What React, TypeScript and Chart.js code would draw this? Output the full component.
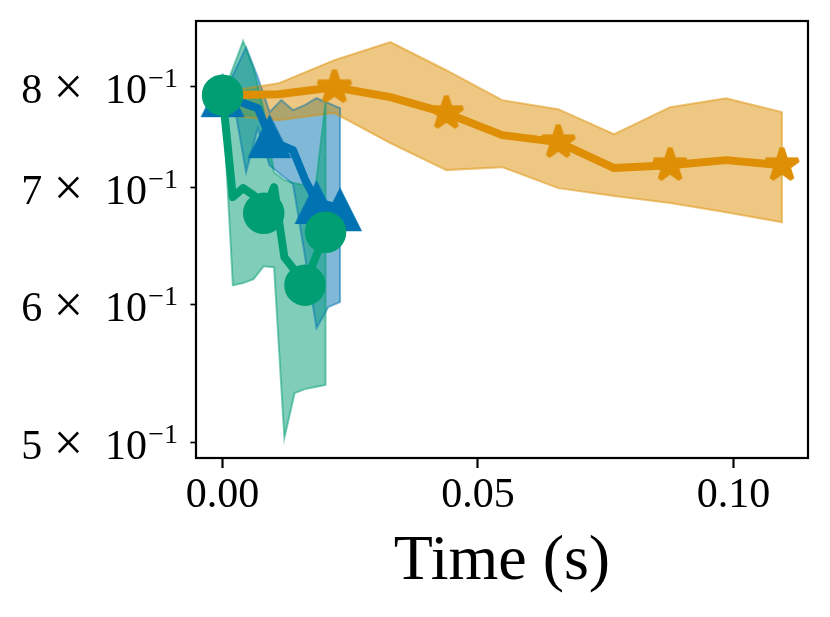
import { useEffect, useRef } from "react";
import { Chart, registerables } from "chart.js";

Chart.register(...registerables);

// method A (orange, stars)
const orangeTime = [0, 0.01095, 0.0219, 0.03285, 0.0438, 0.05475, 0.0657, 0.07665, 0.0876, 0.09855, 0.1095];
const orangeMean = [0.7906, 0.7916, 0.7989, 0.7885, 0.7721, 0.75, 0.7431, 0.7181, 0.7209, 0.7257, 0.7209];
const orangeUpper = [0.7937, 0.803, 0.828, 0.848, 0.817, 0.7854, 0.7761, 0.751, 0.7782, 0.7874, 0.7731];
const orangeLower = [0.77, 0.765, 0.7721, 0.7421, 0.7162, 0.719, 0.6994, 0.6921, 0.6858, 0.6775, 0.6686];
const orangeMarks = [0, 2, 4, 6, 8, 10];

// method B (blue, triangles)
const blueTime = [0, 0.0023, 0.0046, 0.0069, 0.0092, 0.0115, 0.0138, 0.0161, 0.0184, 0.0207, 0.023];
const blueMean = [0.7906, 0.7864, 0.7813, 0.7771, 0.749, 0.7402, 0.7353, 0.7078, 0.6867, 0.684, 0.6802];
const blueUpper = [0.7906, 0.8149, 0.842, 0.8095, 0.7731, 0.7854, 0.7751, 0.7802, 0.7874, 0.7823, 0.7771];
const blueLower = [0.7906, 0.7802, 0.7143, 0.7569, 0.7209, 0.7115, 0.7031, 0.6402, 0.5816, 0.5979, 0.6019];
const blueMarks = [0, 4, 8, 10];

// method C (green, circles)
const greenTime = [0, 0.00202, 0.00403, 0.00605, 0.00806, 0.01008, 0.0121, 0.01411, 0.01613, 0.01814, 0.02016];
const greenMean = [0.7906, 0.6912, 0.6994, 0.693, 0.6766, 0.7003, 0.6385, 0.6277, 0.6154, 0.6377, 0.6599];
const greenUpper = [0.7906, 0.819, 0.849, 0.819, 0.7751, 0.7143, 0.7068, 0.704, 0.7022, 0.6976, 0.7833];
const greenLower = [0.7906, 0.6154, 0.6171, 0.6203, 0.631, 0.6302, 0.5031, 0.5338, 0.5366, 0.5381, 0.5395];
const greenMarks = [0, 4, 8, 10];

const xTicks = [0, 0.05, 0.1];
const yTicks = [0.5, 0.6, 0.7, 0.8];
const yMantissa = ["5", "6", "7", "8"];

const BLUE = "1,115,178";
const ORANGE = "222,143,5";
const GREEN = "2,158,115";
const SERIF = "'Liberation Serif', 'Times New Roman', serif";

const rgba = (c: string, a: number) => `rgba(${c},${a})`;

function triangleImage(size: number, color: string) {
  const c = document.createElement("canvas");
  c.width = size;
  c.height = size;
  const g = c.getContext("2d")!;
  g.beginPath();
  g.moveTo(size / 2, 1);
  g.lineTo(size - 1, size - 1);
  g.lineTo(1, size - 1);
  g.closePath();
  g.fillStyle = color;
  g.fill();
  return c;
}

function starImage(r: number, color: string) {
  const size = Math.ceil(2 * r + 10);
  const c = document.createElement("canvas");
  c.width = size;
  c.height = size;
  const g = c.getContext("2d")!;
  const m = size / 2;
  g.beginPath();
  for (let k = 0; k < 10; k++) {
    const a = -Math.PI / 2 + (k * Math.PI) / 5;
    const rr = k % 2 === 0 ? r : r * 0.381966;
    const px = m + Math.cos(a) * rr;
    const py = m + Math.sin(a) * rr;
    if (k === 0) g.moveTo(px, py);
    else g.lineTo(px, py);
  }
  g.closePath();
  g.fillStyle = color;
  g.strokeStyle = color;
  g.lineWidth = 5;
  g.lineJoin = "bevel";
  g.fill();
  g.stroke();
  return c;
}

function band(time: number[], upper: number[], lower: number[]) {
  const top = time.map((t, i) => ({ x: t, y: upper[i] }));
  const bottom = time.map((t, i) => ({ x: t, y: lower[i] })).reverse();
  return [...top, ...bottom, top[0]];
}

function line(time: number[], mean: number[]) {
  return time.map((t, i) => ({ x: t, y: mean[i] }));
}

function radii(n: number, marks: number[], r: number) {
  return Array.from({ length: n }, (_, i) => (marks.includes(i) ? r : 0));
}

const framePlugin = {
  id: "frame",
  afterDatasetsDraw(chart: Chart) {
    const { ctx, chartArea: a } = chart;
    ctx.save();
    ctx.strokeStyle = "#000";
    ctx.lineWidth = 2.2;
    ctx.strokeRect(a.left, a.top, a.right - a.left, a.bottom - a.top);
    ctx.restore();
  },
};

const yLabelPlugin = {
  id: "yLabels",
  afterDraw(chart: Chart) {
    const { ctx } = chart;
    const y = chart.scales.y;
    const right = 178;
    ctx.save();
    ctx.fillStyle = "#000";
    yTicks.forEach((v, i) => {
      const py = y.getPixelForValue(v);
      const base = py + 16.6;
      ctx.textBaseline = "alphabetic";
      ctx.font = `28px ${SERIF}`;
      ctx.textAlign = "right";
      ctx.fillText("\u22121", right, py + 0.5);
      ctx.font = `42px ${SERIF}`;
      ctx.fillText("10", right - 31, base);
      ctx.textAlign = "center";
      ctx.fillText(yMantissa[i], 31.7, base);
      ctx.font = `52px ${SERIF}`;
      ctx.textBaseline = "middle";
      ctx.fillText("\u00d7", 68.5, py + 4);
    });
    ctx.restore();
  },
};

export default function App() {
  const canvasRef = useRef<HTMLCanvasElement | null>(null);
  const chartRef = useRef<Chart | null>(null);

  useEffect(() => {
    if (!canvasRef.current) {
      return;
    }
    if (chartRef.current) {
      chartRef.current.destroy();
    }

    const tri = triangleImage(46, rgba(BLUE, 1));
    const star = starImage(17, rgba(ORANGE, 1));

    const bandSet = (data: any, c: string, order: number) => ({
      data,
      borderColor: rgba(c, 0.5),
      backgroundColor: rgba(c, 0.5),
      borderWidth: 2,
      pointRadius: 0,
      tension: 0,
      fill: "shape",
      order,
    });

    chartRef.current = new Chart(canvasRef.current, {
      type: "line",
      data: {
        datasets: [
          bandSet(band(blueTime, blueUpper, blueLower), BLUE, 12),
          bandSet(band(orangeTime, orangeUpper, orangeLower), ORANGE, 11),
          bandSet(band(greenTime, greenUpper, greenLower), GREEN, 10),
          {
            data: line(blueTime, blueMean),
            borderColor: rgba(BLUE, 1),
            borderWidth: 8,
            borderJoinStyle: "round",
            tension: 0,
            fill: false,
            pointRadius: radii(blueTime.length, blueMarks, 23),
            pointStyle: tri,
            order: 3,
          },
          {
            data: line(orangeTime, orangeMean),
            borderColor: rgba(ORANGE, 1),
            borderWidth: 8,
            borderJoinStyle: "round",
            tension: 0,
            fill: false,
            pointRadius: radii(orangeTime.length, orangeMarks, 18),
            pointStyle: star,
            order: 2,
          },
          {
            data: line(greenTime, greenMean),
            borderColor: rgba(GREEN, 1),
            borderWidth: 8,
            borderJoinStyle: "round",
            tension: 0,
            fill: false,
            pointRadius: radii(greenTime.length, greenMarks, 20),
            pointStyle: "circle",
            pointBackgroundColor: rgba(GREEN, 1),
            pointBorderColor: rgba(GREEN, 1),
            pointBorderWidth: 1.5,
            order: 1,
          },
        ] as any,
      },
      options: {
        animation: false,
        responsive: true,
        maintainAspectRatio: false,
        events: [],
        layout: {
          autoPadding: false,
          padding: { top: 21, right: 22, left: 0, bottom: 0 },
        },
        plugins: {
          legend: { display: false },
          tooltip: { enabled: false },
          filler: { drawTime: "beforeDatasetsDraw" },
        },
        scales: {
          x: {
            type: "linear",
            min: -0.0052,
            max: 0.1146,
            afterBuildTicks: (s: any) => {
              s.ticks = xTicks.map((value) => ({ value }));
            },
            afterFit: (s: any) => {
              s.height = 159;
            },
            ticks: {
              callback: (v: any) => Number(v).toFixed(2),
              font: { family: SERIF, size: 42 },
              color: "#000",
              padding: 3,
              maxRotation: 0,
              autoSkip: false,
            },
            grid: {
              drawOnChartArea: false,
              drawTicks: true,
              tickLength: 10,
              tickWidth: 2.2,
              tickColor: "#000",
            },
            border: { display: false },
            title: {
              display: true,
              text: "Time (s)",
              color: "#000",
              font: { family: SERIF, size: 64 },
              padding: { top: 0, bottom: 16 },
            },
          },
          y: {
            type: "logarithmic",
            min: 0.49,
            max: 0.8718,
            afterBuildTicks: (s: any) => {
              s.ticks = yTicks.map((value) => ({ value }));
            },
            afterFit: (s: any) => {
              s.width = 196;
            },
            ticks: { display: false },
            grid: {
              drawOnChartArea: false,
              drawTicks: true,
              tickLength: 5.6,
              tickWidth: 1.7,
              tickColor: "#000",
            },
            border: { display: false },
          },
        },
      } as any,
      plugins: [framePlugin, yLabelPlugin],
    });

    return () => {
      chartRef.current?.destroy();
      chartRef.current = null;
    };
  }, []);

  return (
    <div style={{ position: "absolute", left: 0, top: 0, width: 830, height: 617, background: "#fff" }}>
      <canvas ref={canvasRef} />
    </div>
  );
}
